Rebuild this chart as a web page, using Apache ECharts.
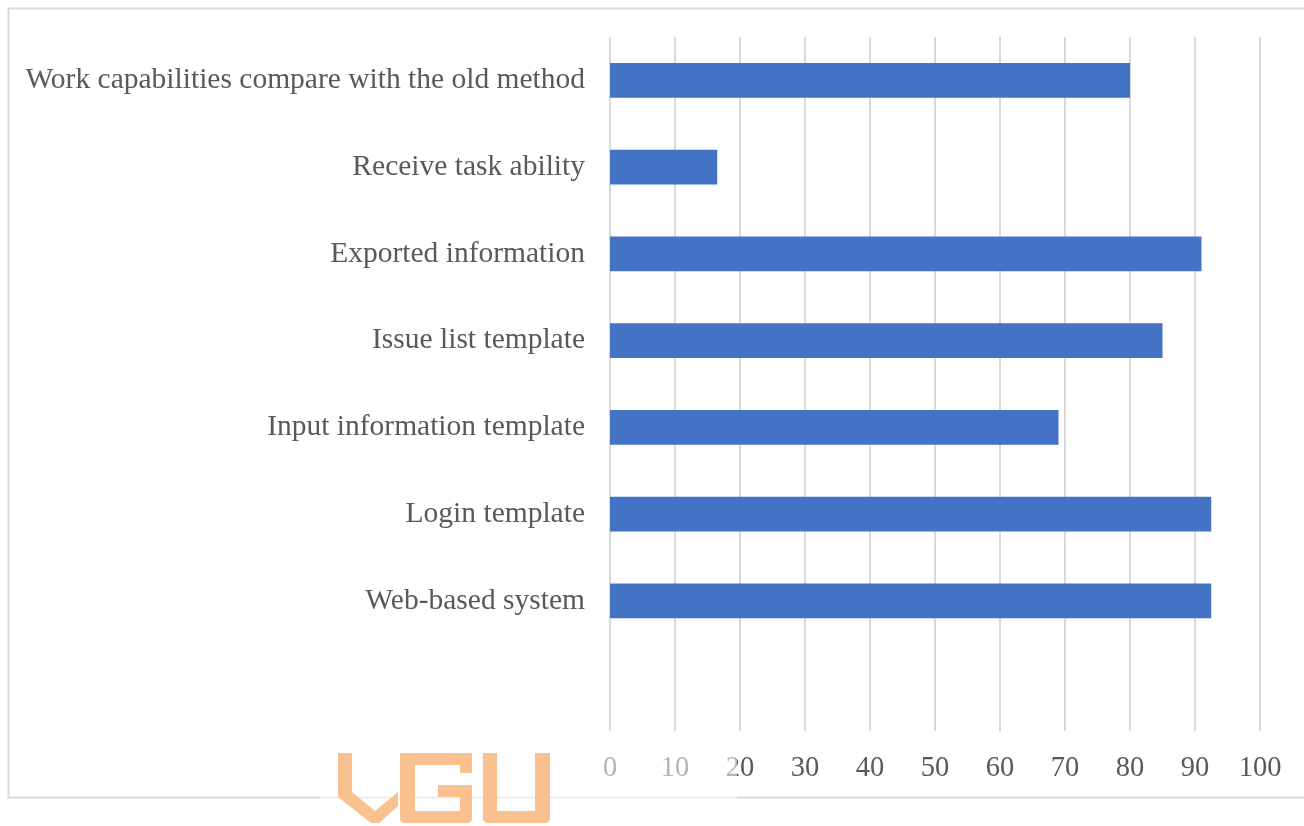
<!DOCTYPE html>
<html>
<head>
<meta charset="utf-8">
<script src="https://cdn.jsdelivr.net/npm/echarts@6/dist/echarts.min.js"></script>
<style>
html,body{margin:0;padding:0;background:#fff;}
#chart{width:1304px;height:826px;}
</style>
</head>
<body>
<div id="chart"></div>
<script>
const categories = [
  'Work capabilities compare with the old method',
  'Receive task ability',
  'Exported information',
  'Issue list template',
  'Input information template',
  'Login template',
  'Web-based system',
  ''
];
const values = [80, 16.5, 91, 85, 69, 92.5, 92.5, null];
const xTicks = { min: 0, max: 100, interval: 10 };

const chart = echarts.init(document.getElementById('chart'));
const orange = '#f9c190';
chart.setOption({
  backgroundColor: '#ffffff',
  animation: false,
  grid: { left: 610, right: 44, top: 37, bottom: 95 },
  xAxis: {
    type: 'value',
    min: xTicks.min, max: xTicks.max, interval: xTicks.interval,
    axisLine: { show: false },
    axisTick: { show: false },
    splitLine: { show: true, lineStyle: { color: '#d9d9d9', width: 2 } },
    axisLabel: { color: '#595959', fontFamily: 'Liberation Serif', fontSize: 28.5, margin: 23 }
  },
  yAxis: {
    type: 'category',
    data: categories,
    inverse: true,
    axisLine: { show: false },
    axisTick: { show: false },
    splitLine: { show: false },
    axisLabel: { color: '#595959', fontFamily: 'Liberation Serif', fontSize: 29.5, margin: 25, padding: [4, 0, 0, 0] }
  },
  series: [{
    type: 'bar',
    data: values,
    barCategoryGap: '60%',
    itemStyle: { color: '#4472c4' }
  }],
  graphic: [
    { type: 'rect', z: -10, silent: true, shape: { x: 8.5, y: 8.5, width: 1310, height: 789 }, style: { fill: 'none', stroke: '#d9d9d9', lineWidth: 2 } },
    { type: 'rect', z: 100, silent: true, shape: { x: 320, y: 745, width: 417, height: 81 }, style: { fill: 'rgba(255,255,255,0.55)' } },
    { type: 'polygon', z: 101, silent: true, shape: { points: [[338,753],[352,753],[352,792],[375,811],[398,792],[398,806],[379,823],[371,823],[338,797]] }, style: { fill: orange } },
    { type: 'polygon', z: 101, silent: true, shape: { points: [[400,753],[472,753],[472,773],[460,773],[460,765],[415,765],[415,811],[460,811],[460,797],[438,797],[438,785],[472,785],[472,820],[469,823],[403,823],[400,820]] }, style: { fill: orange } },
    { type: 'polygon', z: 101, silent: true, shape: { points: [[483,753],[497,753],[497,811],[535,811],[535,753],[550,753],[550,820],[547,823],[486,823],[483,820]] }, style: { fill: orange } }
  ]
});
</script>
</body>
</html>
